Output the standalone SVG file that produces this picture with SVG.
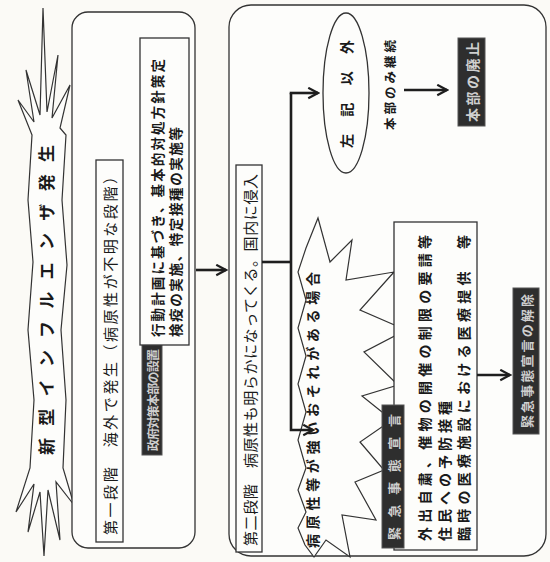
<svg xmlns="http://www.w3.org/2000/svg" width="550" height="562" viewBox="0 0 550 562">
<style>
.bg{fill:#fbfaf6}
.box{fill:#fdfdfb;stroke:#333;stroke-width:1.3}
.star{fill:#fdfdfb;stroke:#333;stroke-width:1.2;stroke-linejoin:miter}
.dark{fill:#2e2e2e;stroke:#555;stroke-width:1}
.t{font-family:"Noto Sans CJK JP","Noto Sans",sans-serif;fill:#1a1a1a;dominant-baseline:central}
.b{font-weight:700}
.w{fill:#cfcfcf;font-weight:700}
.con{fill:none;stroke:#1e1e1e;stroke-width:2.6}
</style>
<defs>
<marker id="ah" viewBox="0 0 10 10" refX="8.5" refY="5" markerWidth="5" markerHeight="5" orient="auto" markerUnits="strokeWidth">
<path d="M1,1 L8.5,5 L1,9" fill="none" stroke="#1e1e1e" stroke-width="1.7"/>
</marker>
</defs>
<rect class="bg" x="0" y="0" width="550" height="562"/>

<g id="outbreak">
<polygon class="star" points="32,135 18,100 34,122 26,70 40,115 43,8 47,112 58,55 52,118 70,85 60,128 66,135 62,200 67,265 61,330 66,400 63,468 74,505 56,482 60,540 48,490 44,556 40,492 28,532 34,484 16,512 30,468 34,400 28,330 33,262 28,200"/>
<text class="t b" font-size="17" transform="translate(45,455) rotate(-90)" textLength="310" lengthAdjust="spacing">新型インフルエンザ発生</text>
</g>

<g id="stage1">
<rect class="box" x="72" y="12" width="123" height="536" rx="16"/>
<g id="stage1-header">
<rect class="box" x="96" y="160" width="27" height="382"/>
<text class="t" font-size="15" transform="translate(109.5,535) rotate(-90)" textLength="366" lengthAdjust="spacing">第一段階　海外で発生（病原性が不明な段階）</text>
</g>
<g id="hq-setup">
<rect class="dark" x="142" y="345" width="20" height="110"/>
<text class="t w" font-size="12" transform="translate(152,451) rotate(-90)" textLength="102" lengthAdjust="spacing">政府対策本部の設置</text>
</g>
<g id="stage1-actions">
<rect class="box" x="140" y="38" width="49" height="307"/>
<text class="t b" font-size="13.5" transform="translate(157,337) rotate(-90)" textLength="278" lengthAdjust="spacing">行動計画に基づき、基本的対処方針策定</text>
<text class="t b" font-size="13.5" transform="translate(175,337) rotate(-90)" textLength="210" lengthAdjust="spacing">検疫の実施、特定接種の実施等</text>
</g>
</g>

<g id="stage2">
<rect class="box" x="229" y="5" width="317" height="551" rx="22"/>
<g id="stage2-header">
<rect class="box" x="236" y="165" width="26" height="387"/>
<text class="t" font-size="15" transform="translate(249,546) rotate(-90)" textLength="372" lengthAdjust="spacing">第二段階　病原性も明らかになってくる。国内に侵入</text>
</g>
<g id="other-case">
<ellipse class="box" cx="346" cy="93" rx="23" ry="80"/>
<text class="t b" font-size="14" transform="translate(346,148) rotate(-90)" textLength="108" lengthAdjust="spacing">左記以外</text>
</g>
<g id="hq-only">
<text class="t b" font-size="12.5" transform="translate(389,130) rotate(-90)" textLength="90" lengthAdjust="spacing">本部のみ継続</text>
</g>
<g id="hq-abolish">
<rect class="dark" x="458" y="38" width="27" height="88"/>
<text class="t w" font-size="14" transform="translate(471.5,122) rotate(-90)" textLength="80" lengthAdjust="spacing">本部の廃止</text>
</g>
<g id="severe-case">
<polygon class="star" points="318,218 330,262 352,240 346,280 394,272 360,310 406,330 364,352 398,385 362,396 392,420 360,442 384,470 355,482 376,520 342,515 350,557 326,540 314,557 305,545 298,528 306,512 298,490 306,468 298,440 306,412 298,384 306,356 298,328 306,300 298,272 306,248"/>
<text class="t b" font-size="14" transform="translate(312,548) rotate(-90)" textLength="276" lengthAdjust="spacing">病原性等が強いおそれがある場合</text>
</g>
<g id="emergency-measures">
<rect class="box" x="394" y="222" width="83" height="328"/>
<text class="t b" font-size="14" transform="translate(424,541) rotate(-90)" textLength="306" lengthAdjust="spacing">外出自粛、催物の開催の制限の要請等</text>
<text class="t b" font-size="14" transform="translate(444,541) rotate(-90)" textLength="140" lengthAdjust="spacing">住民への予防接種</text>
<text class="t b" font-size="14" transform="translate(463,541) rotate(-90)" textLength="306" lengthAdjust="spacing">臨時の医療施設における医療提供　等</text>
</g>
<g id="emergency-declaration">
<rect class="dark" x="382" y="405" width="22" height="143"/>
<text class="t w" font-size="13" transform="translate(393,540) rotate(-90)" textLength="126" lengthAdjust="spacing">緊急事態宣言</text>
</g>
<g id="declaration-lift">
<rect class="dark" x="513" y="288" width="26" height="146"/>
<text class="t w" font-size="13" transform="translate(526,428) rotate(-90)" textLength="134" lengthAdjust="spacing">緊急事態宣言の解除</text>
</g>
</g>

<g id="connectors">
<line class="con" x1="196" y1="270" x2="226" y2="270" marker-end="url(#ah)"/>
<line class="con" x1="262" y1="262" x2="291" y2="262"/>
<polyline class="con" points="291,93 291,430 313,430" marker-end="url(#ah)"/>
<line class="con" x1="289.7" y1="93" x2="318" y2="93" marker-end="url(#ah)"/>
<line class="con" x1="404" y1="90" x2="447" y2="90" marker-end="url(#ah)"/>
<line class="con" x1="477" y1="375" x2="510" y2="375" marker-end="url(#ah)"/>
</g>
</svg>
